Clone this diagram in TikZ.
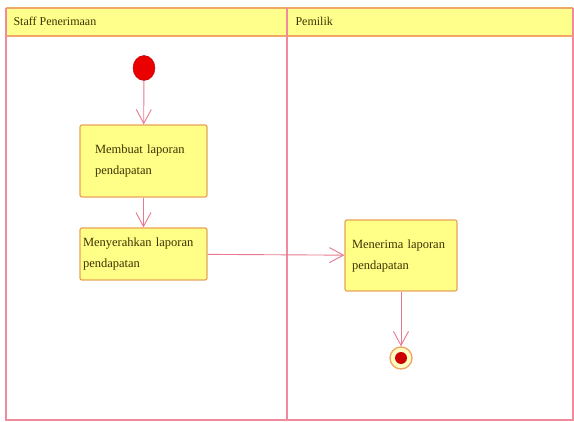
\documentclass[tikz,border=0pt]{standalone}
\usepackage{fontspec}
\setmainfont{Liberation Serif}
\usetikzlibrary{arrows.meta,shapes.geometric}
\definecolor{lane}{HTML}{F08A9C}
\definecolor{hdrfill}{HTML}{FFFF8C}
\definecolor{hdrline}{HTML}{F0A868}
\definecolor{actfill}{HTML}{FFFF88}
\definecolor{actline}{HTML}{E8A458}
\definecolor{ink}{HTML}{3E3300}
\definecolor{flow}{HTML}{E87890}
\begin{document}
\begin{tikzpicture}[x=1pt,y=-1pt,
  action/.style={draw=actline, fill=actfill, line width=1.2pt, rounded corners=2pt,
    text=ink, align=left, minimum height=#1, inner ysep=0pt,
    font=\fontsize{12.5}{21}\selectfont},
  flowline/.style={draw=flow, line width=0.9pt,
    -{Straight Barb[length=14pt,width=15pt,line width=0.9pt]}},
  lanetitle/.style={text=ink, anchor=west, font=\fontsize{12}{14}\selectfont}]
  \useasboundingbox (0,0) rectangle (574,422);
  % swimlanes
  \fill[white] (6,8) rectangle (573,420);
  \fill[hdrfill] (6,8) rectangle (573,36);
  \draw[hdrline, line width=1.2pt] (6,8) -- (573,8);
  \draw[hdrline, line width=1.2pt] (6,36) -- (573,36);
  \draw[lane, line width=1.4pt] (6,8) -- (6,420) -- (573,420) -- (573,8);
  \draw[lane, line width=1.4pt] (287,8) -- (287,420);
  \node[lanetitle] (t1) at (10,21) {Staff Penerimaan};
  \node[lanetitle] (t2) at (292,21) {Pemilik};
  % activity nodes
  \node[ellipse, fill=red!92!black, draw=red!70!black, inner sep=0pt,
    minimum width=22pt, minimum height=25pt] (start) at (144,68) {};
  \node[action=72pt, inner xsep=15pt, text width=97pt] (a1) at (143.5,161) {Membuat laporan\\pendapatan};
  \node[action=52pt, inner xsep=3pt, text width=121pt] (a2) at (143.5,254) {Menyerahkan laporan\\pendapatan};
  \node[action=71pt, inner xsep=7pt, text width=98pt] (a3) at (401,255.5) {Menerima laporan\\pendapatan};
  \node[circle, draw=hdrline, fill=hdrfill!50!white, line width=1.4pt, minimum size=22pt, inner sep=0pt] (end) at (401,358) {};
  \node[circle, fill=red!80!black, minimum size=12pt, inner sep=0pt] (endin) at (end.center) {};
  % control flows
  \draw[flowline] (start) -- (a1);
  \draw[flowline] (a1) -- (a2);
  \draw[flowline] (a2) -- (a3);
  \draw[flowline] (a3) -- (end);
\end{tikzpicture}
\end{document}
